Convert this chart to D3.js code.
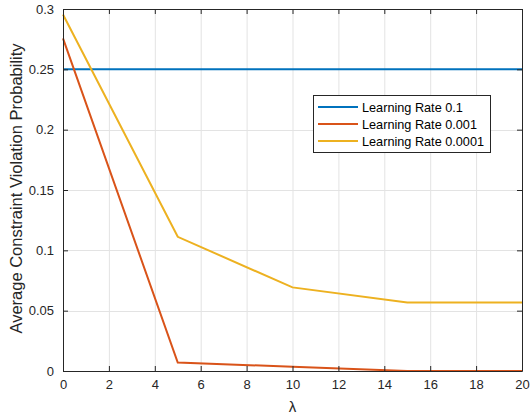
<!DOCTYPE html>
<html><head><meta charset="utf-8">
<script src="https://cdn.jsdelivr.net/npm/d3@7"></script>
<style>body{margin:0;background:#fff;}svg{display:block;font-family:"Liberation Sans",Arial,sans-serif;}</style>
</head><body>
<svg id="c" width="530" height="418"></svg>
<script>
const lambdas = [0, 5, 10, 15, 20];
const lr01 = [0.25, 0.25, 0.25, 0.25, 0.25];
const lr0001 = [0.2756, 0.007, 0.0035, 0.0, 0.0];
const lr00001 = [0.2955, 0.1112, 0.0693, 0.0567, 0.0567];
const seriesNames = ["Learning Rate 0.1", "Learning Rate 0.001", "Learning Rate 0.0001"];
const colors = ["#0072BD", "#D95319", "#EDB120"];
const xTicks = [0,2,4,6,8,10,12,14,16,18,20];
const yTicks = [0,0.05,0.1,0.15,0.2,0.25,0.3];
const yTickLabels = ["0","0.05","0.1","0.15","0.2","0.25","0.3"];

const svg = d3.select("#c");
const L=63, R=522, T=9, B=371;
const x = d3.scaleLinear().domain([0,20]).range([L,R]);
const y = d3.scaleLinear().domain([0,0.3]).range([B,T]);
const ax = "#262626";

// grid
const g = svg.append("g");
g.selectAll(".gx").data(xTicks).join("line")
  .attr("x1",d=>x(d)+0.5).attr("x2",d=>x(d)+0.5).attr("y1",T).attr("y2",B)
  .attr("stroke","#e3e3e3").attr("stroke-width",1);
g.selectAll(".gy").data(yTicks).join("line")
  .attr("y1",d=>Math.round(y(d))+0.5).attr("y2",d=>Math.round(y(d))+0.5).attr("x1",L).attr("x2",R)
  .attr("stroke","#e3e3e3").attr("stroke-width",1);

// lines
const data = [lr01, lr0001, lr00001];
const line = d3.line().x((d,i)=>x(lambdas[i])).y(d=>y(d));
data.forEach((s,i)=>{
  svg.append("path").datum(s).attr("d",line).attr("fill","none")
    .attr("stroke",colors[i]).attr("stroke-width",2);
});

// axes
const xb = d3.axisBottom(x).tickValues(xTicks).tickSize(-5).tickPadding(9).tickSizeOuter(0);
const xt = d3.axisTop(x).tickValues(xTicks).tickSize(-5).tickFormat("").tickSizeOuter(0);
const yl = d3.axisLeft(y).tickValues(yTicks).tickSize(-5).tickPadding(9).tickFormat((d,i)=>yTickLabels[i]).tickSizeOuter(0);
const yr = d3.axisRight(y).tickValues(yTicks).tickSize(-5).tickFormat("").tickSizeOuter(0);
function style(sel){
  sel.selectAll("path").attr("stroke",ax);
  sel.selectAll("line").attr("stroke",ax);
  sel.selectAll("text").attr("fill",ax).style("font-size","13px").style("font-family","Liberation Sans, Arial, sans-serif");
}
style(svg.append("g").attr("transform",`translate(0,${B})`).call(xb));
style(svg.append("g").attr("transform",`translate(0,${T})`).call(xt));
style(svg.append("g").attr("transform",`translate(${L},0)`).call(yl));
style(svg.append("g").attr("transform",`translate(${R},0)`).call(yr));

// labels
svg.append("text").attr("x",(L+R)/2).attr("y",412).attr("text-anchor","middle")
  .attr("fill",ax).style("font-size","15px").text("λ");
svg.append("text").attr("transform",`translate(22,188.5) rotate(-90)`).attr("text-anchor","middle")
  .attr("fill",ax).style("font-size","16.5px").text("Average Constraint Violation Probability");

// legend
const lg = svg.append("g");
const lx=313, ly=95, lw=177, lh=57;
lg.append("rect").attr("x",lx+0.5).attr("y",ly+0.5).attr("width",lw).attr("height",lh)
  .attr("fill","#fff").attr("stroke",ax).attr("stroke-width",1);
seriesNames.forEach((n,i)=>{
  const yy = ly+12+i*17;
  lg.append("line").attr("x1",lx+5).attr("x2",lx+45).attr("y1",yy).attr("y2",yy)
    .attr("stroke",colors[i]).attr("stroke-width",2);
  lg.append("text").attr("x",lx+49).attr("y",yy+4.5).attr("fill","#000").style("font-size","12.7px").text(n);
});
</script>
</body></html>
